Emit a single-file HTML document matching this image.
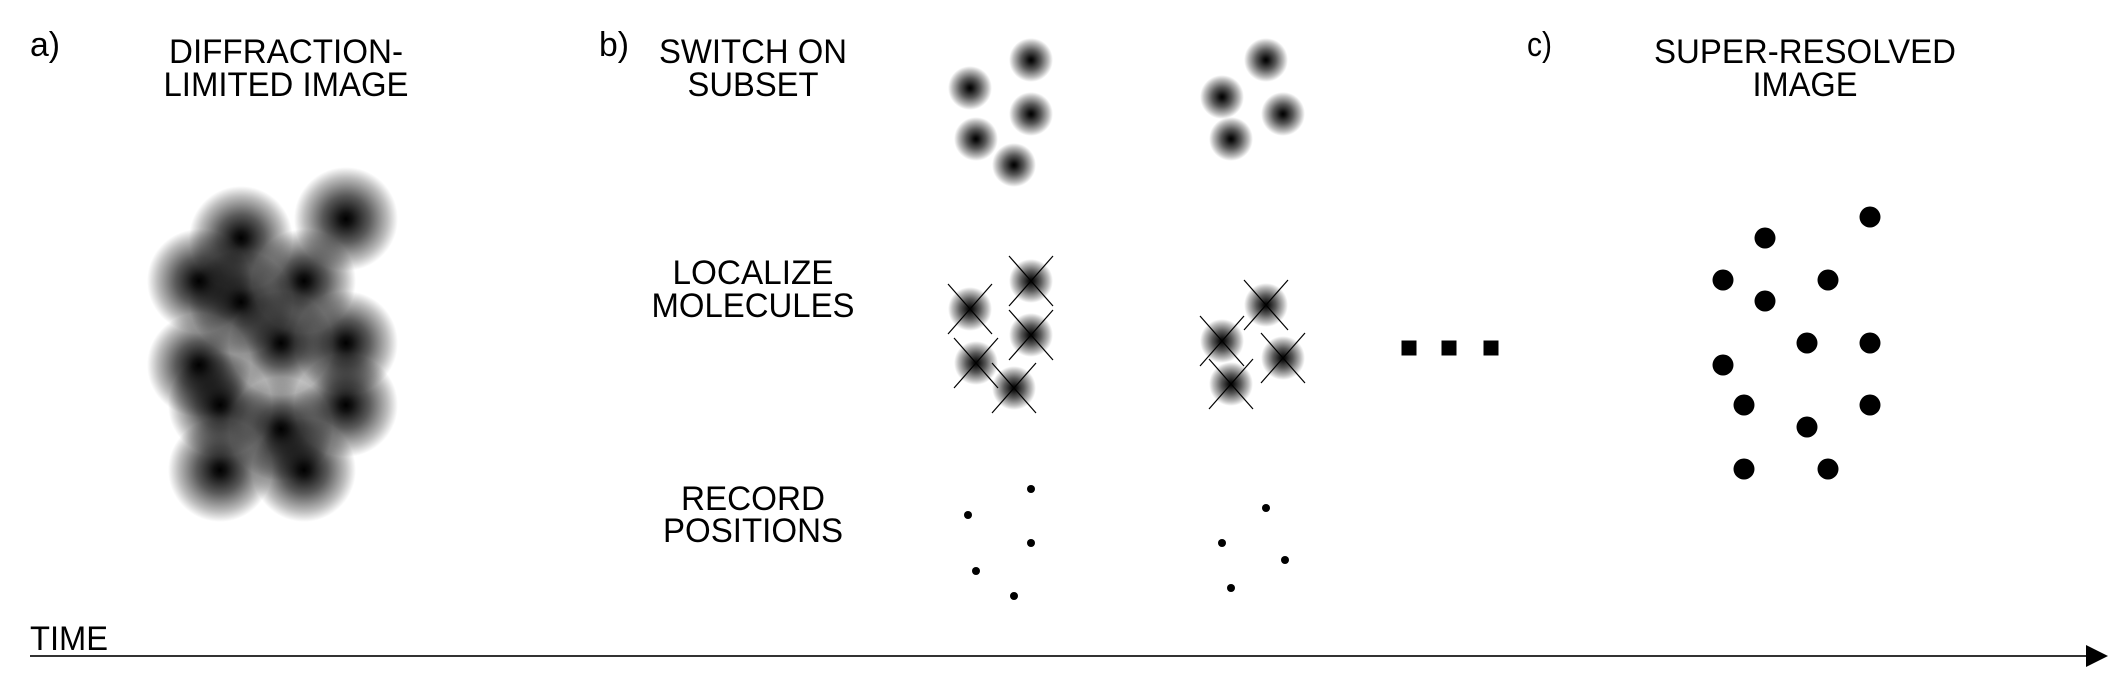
<!DOCTYPE html>
<html><head><meta charset="utf-8"><style>
html,body{margin:0;padding:0;background:#fff;}
svg{display:block;}
text{font-family:"Liberation Sans",sans-serif;fill:#000;}
</style></head><body>
<svg id="fig" width="2126" height="673" viewBox="0 0 2126 673" xmlns="http://www.w3.org/2000/svg">
<defs>
<radialGradient id="blob">
<stop offset="0" stop-color="#000"/>
<stop offset="0.12" stop-color="#111"/>
<stop offset="0.45" stop-color="#5a5a5a"/>
<stop offset="0.8" stop-color="#bdbdbd"/>
<stop offset="1" stop-color="#fff"/>
</radialGradient>
</defs>
<g font-size="34">
<text x="30" y="56" textLength="30" lengthAdjust="spacingAndGlyphs">a)</text>
<text x="599" y="56" textLength="30" lengthAdjust="spacingAndGlyphs">b)</text>
<text x="1527" y="56" textLength="25" lengthAdjust="spacingAndGlyphs">c)</text>
</g>
<g font-size="34" text-anchor="middle">
<text x="286" y="63" textLength="234" lengthAdjust="spacingAndGlyphs">DIFFRACTION-</text>
<text x="286" y="96" textLength="245" lengthAdjust="spacingAndGlyphs">LIMITED IMAGE</text>
<text x="753" y="63" textLength="188" lengthAdjust="spacingAndGlyphs">SWITCH ON</text>
<text x="753" y="96" textLength="131" lengthAdjust="spacingAndGlyphs">SUBSET</text>
<text x="753" y="284" textLength="161" lengthAdjust="spacingAndGlyphs">LOCALIZE</text>
<text x="753" y="317" textLength="203" lengthAdjust="spacingAndGlyphs">MOLECULES</text>
<text x="753" y="510" textLength="144" lengthAdjust="spacingAndGlyphs">RECORD</text>
<text x="753" y="542" textLength="180" lengthAdjust="spacingAndGlyphs">POSITIONS</text>
<text x="1805" y="63" textLength="302" lengthAdjust="spacingAndGlyphs">SUPER-RESOLVED</text>
<text x="1805" y="96" textLength="105" lengthAdjust="spacingAndGlyphs">IMAGE</text>
</g>
<text x="30" y="650" font-size="34" textLength="78" lengthAdjust="spacingAndGlyphs">TIME</text>
<line x1="30" y1="656" x2="2090" y2="656" stroke="#333" stroke-width="2"/>
<polygon points="2086,645 2108,656 2086,667" fill="#000"/>
<g id="marks"></g>
</svg>
<script>
// diffraction-limited molecule positions (x, y)
const blobX = [346,241,199,304,241,281,346,199,220,346,281,220,304];
const blobY = [219,238,281,281,302,343,343,365,405,405,429,470,470];
// frame 1 subset
const f1X = [1031,970,1031,976,1014];
const f1Y = [60,88,114,139,165];
const f1LocY = [281,309,335,363,388];
const f1RecY = [489,515,543,571,596];
const f1RecX = [1031,968,1031,976,1014];
// frame 2 subset
const f2X = [1266,1222,1283,1231];
const f2Y = [60,97,114,139];
const f2LocY = [305,341,358,384];
const f2RecX = [1266,1222,1285,1231];
const f2RecY = [508,543,560,588];
// super-resolved positions
const srX = [1870,1765,1723,1828,1765,1807,1870,1723,1744,1870,1807,1744,1828];
const srY = [217,238,280,280,301,343,343,365,405,405,427,469,469];
// ellipsis squares
const ellX = [1409,1449,1491];
const ellY = [348,348,348];

const NS = "http://www.w3.org/2000/svg";
const g = document.getElementById('marks');
function mk(tag, attrs){const e=document.createElementNS(NS,tag);for(const k in attrs)e.setAttribute(k,attrs[k]);g.appendChild(e);return e;}

blobX.forEach((x,i)=>{
  const c = mk('circle',{cx:x,cy:blobY[i],r:52,fill:'url(#blob)',style:'mix-blend-mode:multiply'});
  
  
});
function smallBlob(x,y){
  const c = mk('circle',{cx:x,cy:y,r:22,fill:'url(#blob)',style:'mix-blend-mode:multiply'});
  
  
}
function cross(x,y){
  const dx=22, dy=25;
  const a = mk('path',{d:`M${x-dx} ${y-dy}L${x+dx} ${y+dy}M${x-dx} ${y+dy}L${x+dx} ${y-dy}`,stroke:'#000','stroke-width':1.2,fill:'none'});
  
  
}
function dot(x,y,r,name){
  const c = mk('circle',{cx:x,cy:y,r:r,fill:'#000'});
  
  
}
f1X.forEach((x,i)=>smallBlob(x,f1Y[i]));
f1X.forEach((x,i)=>smallBlob(x,f1LocY[i]));
f1X.forEach((x,i)=>cross(x,f1LocY[i]));
f1RecX.forEach((x,i)=>dot(x,f1RecY[i],4,'recorded-position'));
f2X.forEach((x,i)=>smallBlob(x,f2Y[i]));
f2X.forEach((x,i)=>smallBlob(x,f2LocY[i]));
f2X.forEach((x,i)=>cross(x,f2LocY[i]));
f2RecX.forEach((x,i)=>dot(x,f2RecY[i],4,'recorded-position'));
srX.forEach((x,i)=>dot(x,srY[i],10.5,'super-resolved-point'));
ellX.forEach((x,i)=>{
  const r = mk('rect',{x:x-7.5,y:ellY[i]-7.5,width:15,height:15,fill:'#000'});
  
  
});
</script>
</body></html>
